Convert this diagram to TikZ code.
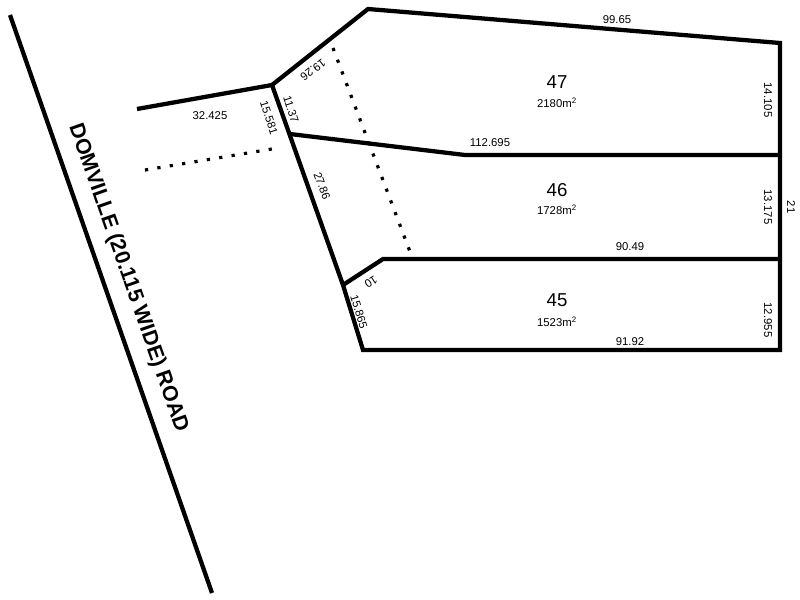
\documentclass[tikz,border=0pt]{standalone}
\usepackage{fontspec}
\setmainfont{Liberation Sans}
\begin{document}
\begin{tikzpicture}[x=0.75pt,y=-0.75pt,
  bound/.style={line width=3.2pt,line join=miter},
  dots/.style={line width=2.4pt,dash pattern=on 2.4pt off 7pt},
  dim/.style={font=\fontsize{8.5}{9}\selectfont,inner sep=1pt},
  lot/.style={font=\fontsize{14}{15}\selectfont},
  area/.style={font=\fontsize{8.5}{9}\selectfont}]
\useasboundingbox (0,0) rectangle (800,600);
\draw[bound] (10,15) -- (212,593);
\coordinate (A) at (272,85);
\coordinate (B) at (343,285);
\coordinate (C) at (290,134);
\draw[bound] (137,109) -- (A);
\draw[bound] (A) -- (368,9) -- (780,43) -- (780,350) -- (363,350) -- (B) -- (A);
\draw[bound] (C) -- (465,155) -- (780,155);
\draw[bound] (B) -- (383,259) -- (780,259);
\draw[dots] (145,170) -- (278,148);
\draw[dots] (333,48) -- (412,257);
\node[dim] at (617,20) {99.65};
\node[lot] at (557,82) {47};
\node[area] at (557,103) {2180m\textsuperscript{2}};
\node[dim,rotate=-90] at (768,100) {14.105};
\node[dim] at (490,143) {112.695};
\node[lot] at (557,190) {46};
\node[area] at (557,210) {1728m\textsuperscript{2}};
\node[dim,rotate=-90] at (768,207) {13.175};
\node[dim,rotate=-90] at (791,207) {21};
\node[dim] at (630,247) {90.49};
\node[lot] at (557,300) {45};
\node[area] at (557,322) {1523m\textsuperscript{2}};
\node[dim,rotate=-90] at (768,320) {12.955};
\node[dim] at (630,342) {91.92};
\node[dim] at (210,116) {32.425};
\node[dim,rotate=-72] at (269,118) {15.581};
\node[dim,rotate=-72] at (291,109) {11.37};
\node[dim,rotate=-142] at (313,70) {19.26};
\node[dim,rotate=-70] at (322,186) {27.86};
\node[dim,rotate=-147] at (371,282) {10};
\node[dim,rotate=-73] at (359,312) {15.865};
\node[font=\fontsize{16}{17}\selectfont\bfseries,rotate=-70.7] at (128,278) {DOMVILLE (20.115 WIDE) ROAD};
\end{tikzpicture}
\end{document}
